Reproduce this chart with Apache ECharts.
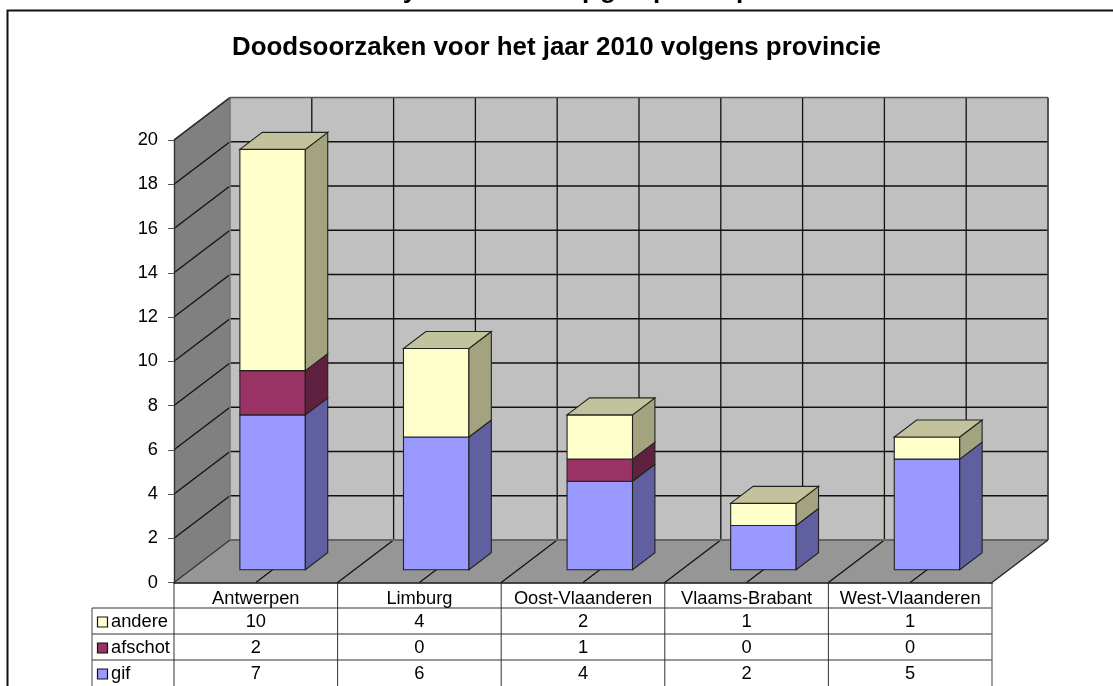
<!DOCTYPE html>
<html>
<head>
<meta charset="utf-8">
<title>Doodsoorzaken</title>
<style>
  html, body { margin: 0; padding: 0; background: #fff; }
  #chart { width: 1113px; height: 686px; }
</style>
<script src="https://cdn.jsdelivr.net/npm/echarts@6/dist/echarts.min.js"></script>
</head>
<body>
<div id="chart"></div>
<script>
var categories = ['Antwerpen', 'Limburg', 'Oost-Vlaanderen', 'Vlaams-Brabant', 'West-Vlaanderen']
var andere = [10, 4, 2, 1, 1]
var afschot = [2, 0, 1, 0, 0]
var gif = [7, 6, 4, 2, 5]

// stacking order, bottom first
var stackNames = ['gif', 'afschot', 'andere']
var stackValues = [gif, afschot, andere]
// table order, top row first
var tableNames = ['andere', 'afschot', 'gif']
var tableValues = [andere, afschot, gif]

var colors = {
  gif: { front: '#9999ff', side: '#6060a0', top: '#7f7fd0' },
  afschot: { front: '#993366', side: '#602040', top: '#7f2a55' },
  andere: { front: '#ffffcc', side: '#a3a380', top: '#c2c29c' }
}
// the fragments of a heading cut off by the top of the picture
var cutLetters = [['y', 410], ['p', 590], ['g', 608], ['p', 661], ['p', 744]]

var FONT = '"Liberation Sans", Arial, sans-serif'
var DEPTH_X = 56
var DEPTH_Y = 42.5
var TABLE_LEFT = 92
var TABLE_TOP = 608
var ROW_H = 26

var chart = echarts.init(document.getElementById('chart'))

function projector(api) {
  var band = api.size([1, 0])[0]
  var x0 = api.coord([0, 0])[0] - band / 2
  return {
    band: band,
    // cat in bands from the left edge, depth 0 = front, 1 = back
    at: function (cat, val, depth) {
      var y = api.coord([0, val])[1]
      return [x0 + cat * band + DEPTH_X * depth, y - DEPTH_Y * depth]
    }
  }
}

function poly(points, fill, stroke, lineWidth) {
  return {
    type: 'polygon',
    shape: { points: points },
    style: { fill: fill, stroke: stroke, lineWidth: lineWidth || 1 }
  }
}

function line(a, b, stroke, lineWidth) {
  return {
    type: 'line',
    shape: { x1: a[0], y1: a[1], x2: b[0], y2: b[1] },
    style: { stroke: stroke, lineWidth: lineWidth || 1.3 }
  }
}

function renderWalls(params, api) {
  var p = projector(api)
  var n = categories.length
  var yMax = 20
  var kids = [
    poly([p.at(0, 0, 1), p.at(n, 0, 1), p.at(n, yMax, 1), p.at(0, yMax, 1)], '#c0c0c0', 'none'),
    poly([p.at(0, 0, 0), p.at(0, 0, 1), p.at(0, yMax, 1), p.at(0, yMax, 0)], '#808080', 'none'),
    poly([p.at(0, 0, 0), p.at(n, 0, 0), p.at(n, 0, 1), p.at(0, 0, 1)], '#969696', 'none')
  ]
  var v, c
  for (v = 0; v <= yMax; v += 2) {
    if (v > 0 && v < yMax) kids.push(line(p.at(0, v, 1), p.at(n, v, 1), '#111'))
    if (v > 0) kids.push(line(p.at(0, v, 0), p.at(0, v, 1), '#111'))
  }
  for (c = 0; c <= n; c += 0.5) {
    if (c > 0 && c < n) {
      kids.push(line(p.at(c, 0, 1), p.at(c, yMax, 1), '#111'))
      kids.push(line(p.at(c, 0, 0), p.at(c, 0, 1), '#111'))
    }
  }
  // wall edges
  kids.push(line(p.at(0, yMax, 1), p.at(n, yMax, 1), '#555', 1.6))
  kids.push(line(p.at(n, yMax, 1), p.at(n, 0, 1), '#444', 1.8))
  kids.push(line(p.at(0, 0, 1), p.at(n, 0, 1), '#666', 1.8))
  kids.push(line(p.at(0, 0, 1), p.at(0, yMax, 1), '#777', 1.6))
  kids.push(line(p.at(0, 0, 0), p.at(0, 0, 1), '#333'))
  kids.push(line(p.at(n, 0, 0), p.at(n, 0, 1), '#222'))
  kids.push(line(p.at(0, yMax, 0), p.at(0, yMax, 1), '#333'))
  return { type: 'group', children: kids }
}

function renderSegment(params, api) {
  var p = projector(api)
  var cat = api.value(0)
  var from = api.value(1)
  var to = api.value(2)
  var isTop = api.value(3)
  var c = colors[params.seriesName]
  var left = cat + 0.3
  var right = cat + 0.7
  var d0 = 0.3
  var d1 = 0.7
  var edge = '#222'
  var kids = [
    poly([p.at(left, from, d0), p.at(right, from, d0), p.at(right, to, d0), p.at(left, to, d0)], c.front, edge, 1.1),
    poly([p.at(right, from, d0), p.at(right, from, d1), p.at(right, to, d1), p.at(right, to, d0)], c.side, edge, 1.1)
  ]
  if (isTop) {
    kids.push(poly([p.at(left, to, d0), p.at(right, to, d0), p.at(right, to, d1), p.at(left, to, d1)], c.top, edge, 1.1))
  }
  return { type: 'group', children: kids }
}

function renderFrame(params, api) {
  var p = projector(api)
  var n = categories.length
  var bottom = TABLE_TOP + ROW_H * tableNames.length
  var axisY = p.at(0, 0, 0)[1]
  var kids = []
  var r, c
  for (r = 0; r < tableNames.length; r++) {
    var rowY = TABLE_TOP + ROW_H * r
    kids.push(line([TABLE_LEFT, rowY], [p.at(n, 0, 0)[0], rowY], '#333', 1))
    kids.push({
      type: 'rect',
      shape: { x: TABLE_LEFT + 5.5, y: rowY + 9, width: 10, height: 10 },
      style: { fill: colors[tableNames[r]].front, stroke: '#111', lineWidth: 1.2 }
    })
    kids.push({
      type: 'text',
      style: {
        x: TABLE_LEFT + 19, y: rowY + 14, text: tableNames[r], fill: '#000',
        font: '18.3px ' + FONT, align: 'left', verticalAlign: 'middle'
      }
    })
  }
  kids.push(line([TABLE_LEFT, TABLE_TOP], [TABLE_LEFT, bottom], '#444', 1))
  for (c = 0; c <= n; c++) {
    var x = p.at(c, 0, 0)[0]
    kids.push(line([x, axisY], [x, bottom], c === n ? '#777' : '#333', c === n ? 1.4 : 1))
  }
  return { type: 'group', children: kids }
}

function renderCell(params, api) {
  var p = projector(api)
  var row = api.value(0)
  var cat = api.value(1)
  return {
    type: 'text',
    style: {
      x: p.at(cat + 0.5, 0, 0)[0],
      y: TABLE_TOP + ROW_H * row + 14,
      text: String(api.value(2)),
      fill: '#000',
      font: '18.3px ' + FONT,
      align: 'center',
      verticalAlign: 'middle'
    }
  }
}

var series = [{
  name: 'walls',
  type: 'custom',
  renderItem: renderWalls,
  data: [[0, 0]],
  encode: { x: 0, y: 1 },
  silent: true,
  z: 1
}]

stackNames.forEach(function (name, s) {
  var data = []
  categories.forEach(function (cat, i) {
    var from = 0
    var k
    for (k = 0; k < s; k++) from += stackValues[k][i]
    var val = stackValues[s][i]
    if (val === 0) return
    var above = 0
    for (k = s + 1; k < stackValues.length; k++) above += stackValues[k][i]
    data.push([i, from, from + val, above === 0 ? 1 : 0])
  })
  series.push({
    name: name,
    type: 'custom',
    renderItem: renderSegment,
    data: data,
    encode: { x: 0, y: 2 },
    z: 2 + s
  })
})

var cells = []
tableNames.forEach(function (name, r) {
  categories.forEach(function (cat, c) {
    cells.push([r, c, tableValues[r][c]])
  })
})

series.push({
  name: 'frame',
  type: 'custom',
  renderItem: renderFrame,
  data: [[0, 0]],
  encode: { x: 0, y: 1 },
  silent: true,
  clip: false,
  z: 6
}, {
  name: 'cells',
  type: 'custom',
  renderItem: renderCell,
  data: cells,
  encode: { x: 1, y: 2 },
  silent: true,
  clip: false,
  z: 7
})

chart.setOption({
  backgroundColor: '#fff',
  animation: false,
  title: {
    text: 'Doodsoorzaken voor het jaar 2010 volgens provincie',
    left: 'center',
    top: 30,
    textStyle: { fontFamily: FONT, fontSize: 25.9, fontWeight: 'bold', color: '#000' }
  },
  grid: { left: 174, right: 121, top: 140, bottom: 103.5 },
  xAxis: {
    type: 'category',
    data: categories,
    axisTick: { show: false },
    axisLine: { show: true, lineStyle: { color: '#111', width: 1.6 } },
    splitLine: { show: false },
    axisLabel: { color: '#000', fontFamily: FONT, fontSize: 18.3, margin: 7, interval: 0 },
    z: 8
  },
  yAxis: {
    type: 'value',
    min: 0,
    max: 20,
    interval: 2,
    axisLine: { show: true, lineStyle: { color: '#333', width: 1.4 } },
    axisTick: { show: true, length: 6, lineStyle: { color: '#555' } },
    splitLine: { show: false },
    axisLabel: { color: '#000', fontFamily: FONT, fontSize: 18.3, margin: 16, verticalAlignMaxLabel: 'middle', verticalAlignMinLabel: 'middle' },
    z: 8
  },
  graphic: [{
    type: 'polyline',
    shape: { points: [[7.5, 686], [7.5, 10.5], [1113, 10.5]] },
    style: { fill: 'none', stroke: '#111', lineWidth: 2 },
    z: 10
  }].concat(cutLetters.map(function (item) {
    return {
      type: 'text',
      x: item[1],
      y: 3.5,
      style: {
        text: item[0], fill: '#000', font: 'bold 26px ' + FONT,
        align: 'center', verticalAlign: 'bottom'
      },
      z: 10
    }
  })),
  series: series
})
</script>
</body>
</html>
